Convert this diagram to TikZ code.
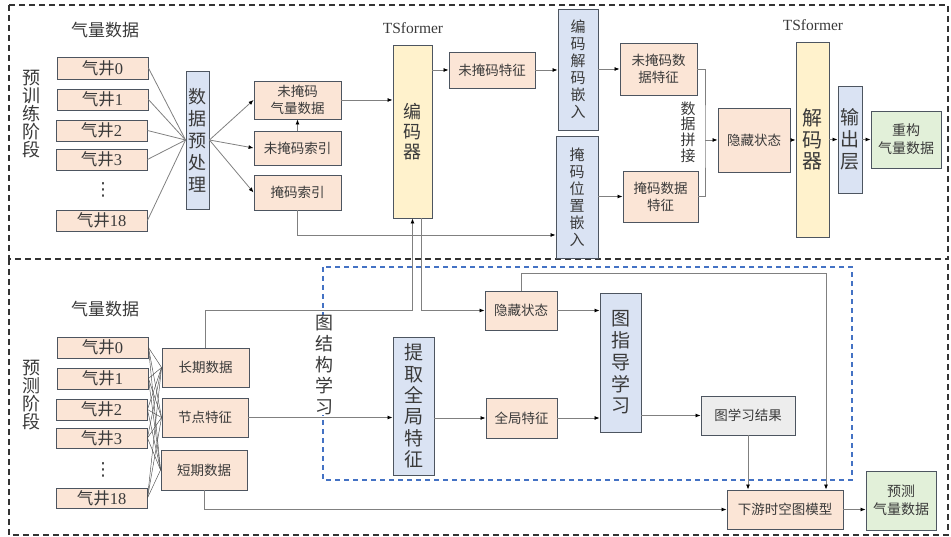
\documentclass[tikz,border=0pt]{standalone}
\usepackage{fontspec}
\setmainfont{Noto Sans CJK SC}
\newfontfamily\lat{Liberation Serif}
\newfontfamily\dv{DejaVu Sans}
\usetikzlibrary{arrows.meta,calc}
\definecolor{peach}{HTML}{FBE5D6}
\definecolor{lblue}{HTML}{DAE3F3}
\definecolor{lyellow}{HTML}{FFF2CC}
\definecolor{lgreen}{HTML}{E2F0D9}
\definecolor{lgray}{HTML}{EDEDED}
\definecolor{bord}{HTML}{4D5560}
\definecolor{txt}{HTML}{3A3A3A}
\definecolor{conn}{HTML}{808080}
\definecolor{dblue}{HTML}{4472C4}
\newcommand\fs[2]{\fontsize{#1}{#2}\selectfont}
\newcommand\mybox[7]{\node[#6, minimum width={#4-#2}, minimum height={#5-#3}] (#1) at ({(#2+#4)/2},{(#3+#5)/2}) {#7};}
\tikzset{
  base/.style={draw=bord, line width=0.9pt, inner sep=0pt, align=center, text=txt, font=\fs{13.5}{17}},
  pbox/.style={base, fill=peach},
  bbox/.style={base, fill=lblue},
  ybox/.style={base, fill=lyellow},
  gbox/.style={base, fill=lgreen},
  grbox/.style={base, fill=lgray},
  wbox/.style={pbox, font=\fs{16.5}{18}},
  arr/.style={draw=conn, line width=0.8pt, -{Latex[length=5pt,width=4pt,color=black]}},
  ln/.style={draw=conn, line width=0.8pt},
  mesh/.style={draw=black!70, line width=0.45pt},
  lbl/.style={text=txt, inner sep=0pt, align=center},
  frame/.style={black!80, line width=1.2pt, dash pattern=on 6pt off 4pt},
}
\begin{document}
\begin{tikzpicture}[x=1pt,y=-1pt]
\useasboundingbox (0,0) rectangle (951,537);
% outer frames
\draw[frame] (9,5) rectangle (948,259);
\draw[frame] (9,259) -- (9,535) -- (948,535) -- (948,259);
\draw[dblue, line width=1.2pt, dash pattern=on 5pt off 4pt] (323,267) rectangle (852,480);

% ---------- top section ----------
\node[lbl, font=\fs{17}{20}] (lq1) at (105,30) {气量数据};
\node[lbl, font=\fs{18}{18}] (ph1) at (32,114) {预\\训\\练\\阶\\段};
\mybox{wt0}{57}{57}{148}{79}{wbox}{气井{\lat 0}}
\mybox{wt1}{57}{89}{148}{110}{wbox}{气井{\lat 1}}
\mybox{wt2}{56}{120}{147}{141}{wbox}{气井{\lat 2}}
\mybox{wt3}{56}{149}{147}{170}{wbox}{气井{\lat 3}}
\node[lbl, font=\dv\fs{18}{18}] (dt) at (103,190) {⋮};
\mybox{wt4}{56}{210}{147}{231}{wbox}{气井{\lat 18}}
\mybox{pre}{186}{71}{209}{209}{bbox, font=\fs{18}{22}}{数\\据\\预\\处\\理}
\mybox{um}{254}{81}{341}{119}{pbox}{未掩码\\气量数据}
\mybox{umi}{254}{131}{341}{165}{pbox}{未掩码索引}
\mybox{mi}{254}{175}{341}{210}{pbox}{掩码索引}
\node[lbl, font=\lat\fs{15.5}{18}] (ts1) at (413,28) {TSformer};
\mybox{enc}{393}{45}{432}{218}{ybox, font=\fs{18}{20}}{编\\码\\器}
\mybox{umf}{449}{52}{535}{88}{pbox}{未掩码特征}
\mybox{ede}{558}{9}{598}{130}{bbox, font=\fs{15}{17}}{编\\码\\解\\码\\嵌\\入}
\mybox{mpe}{556}{136}{598}{258}{bbox, font=\fs{15}{17}}{掩\\码\\位\\置\\嵌\\入}
\mybox{umdf}{620}{43}{697}{95}{pbox}{未掩码数\\据特征}
\mybox{mdf}{623}{171}{698}{222}{pbox}{掩码数据\\特征}
\node[lbl, font=\fs{15}{15.7}] (pj) at (688,132) {数\\据\\拼\\接};
\mybox{hs}{718}{108}{790}{172}{pbox}{隐藏状态}
\node[lbl, font=\lat\fs{15.5}{18}] (ts2) at (813,25) {TSformer};
\mybox{dec}{796}{42}{829}{237}{ybox, font=\fs{20}{21.7}}{解\\码\\器}
\mybox{out}{838}{86}{862}{193}{bbox, font=\fs{19}{21.7}}{输\\出\\层}
\mybox{rec}{871}{111}{941}{168}{gbox, font=\fs{14}{18}}{重构\\气量数据}

% top connectors
\foreach \i in {0,...,4} {\draw[ln] (wt\i.east) -- (pre.west);}
\draw[arr] (pre.east) -- (um.west);
\draw[arr] (pre.east) -- (umi.west);
\draw[arr] (pre.east) -- (mi.west);
\draw[arr] (umi.north) -- (um.south);
\draw[arr] (um.east) -- (um.east -| enc.west);
\draw[arr] (mi.south) |- ([yshift=-38pt]mpe.west);
\draw[arr] (umf.west -| enc.east) -- (umf.west);
\draw[arr] (umf.east) -- (umf.east -| ede.west);
\draw[arr] (umdf.west -| ede.east) -- (umdf.west);
\draw[arr] (mdf.west -| mpe.east) -- (mdf.west);
\coordinate (brk) at (705,140);
\draw[ln] (umdf.east) -| (brk) |- (mdf.east);
\draw[arr] (brk) -- (hs.west);
\draw[arr] (hs.east) -- (hs.east -| dec.west);
\draw[arr] (dec.east |- out.west) -- (out.west);
\draw[arr] (out.east |- rec.west) -- (rec.west);

% ---------- bottom section ----------
\node[lbl, font=\fs{17}{20}] (lq2) at (105,309) {气量数据};
\node[lbl, font=\fs{18}{18}] (ph2) at (32,395) {预\\测\\阶\\段};
\mybox{wb0}{57}{337}{148}{358}{wbox}{气井{\lat 0}}
\mybox{wb1}{57}{368}{148}{389}{wbox}{气井{\lat 1}}
\mybox{wb2}{56}{399}{147}{420}{wbox}{气井{\lat 2}}
\mybox{wb3}{56}{428}{147}{448}{wbox}{气井{\lat 3}}
\node[lbl, font=\dv\fs{18}{18}] (db) at (103,470) {⋮};
\mybox{wb4}{56}{488}{147}{508}{wbox}{气井{\lat 18}}
\mybox{lt}{162}{348}{249}{387}{pbox}{长期数据}
\mybox{nf}{162}{398}{248}{437}{pbox}{节点特征}
\mybox{st}{161}{450}{247}{490}{pbox}{短期数据}
\mybox{hs2}{485}{291}{557}{330}{pbox}{隐藏状态}
\mybox{ext}{393}{337}{434}{475}{bbox, font=\fs{19}{21.3}}{提\\取\\全\\局\\特\\征}
\mybox{gf}{486}{398}{557}{438}{pbox}{全局特征}
\mybox{ggl}{600}{293}{641}{432}{bbox, font=\fs{19}{21.7}}{图\\指\\导\\学\\习}
\mybox{glr}{701}{396}{795}{435}{grbox}{图学习结果}
\mybox{ds}{727}{490}{843}{529}{pbox}{下游时空图模型}
\mybox{pred}{866}{471}{936}{530}{gbox, font=\fs{14}{18}}{预测\\气量数据}

% bottom connectors
\foreach \i in {0,...,4} {
  \draw[mesh] (wb\i.east) -- (lt.west);
  \draw[mesh] (wb\i.east) -- (nf.west);
  \draw[mesh] (wb\i.east) -- (st.west);
}
\coordinate (c1) at (412.5,310);
\draw[arr] (lt.north) |- (c1) -- (enc.south);
\draw[arr] ([xshift=9pt]enc.south) |- (hs2.west);
\coordinate (c2) at (826,273);
\draw[arr] (hs2.north) |- (c2) -- (c2 |- ds.north);
\draw[arr] (hs2.east) -- (hs2.east -| ggl.west);
\draw[arr] (nf.east) -- (nf.east -| ext.west);
\draw[arr] (gf.west -| ext.east) -- (gf.west);
\draw[arr] (gf.east) -- (gf.east -| ggl.west);
\draw[arr] (glr.west -| ggl.east) -- (glr.west);
\draw[arr] (glr.south) -- (glr.south |- ds.north);
\draw[arr] (st.south) |- (ds.west);
\draw[arr] (ds.east) -- (ds.east -| pred.west);

\node[lbl, fill=white, font=\fs{18}{21}] (gsl) at (324,365) {图\\结\\构\\学\\习};
\end{tikzpicture}
\end{document}
